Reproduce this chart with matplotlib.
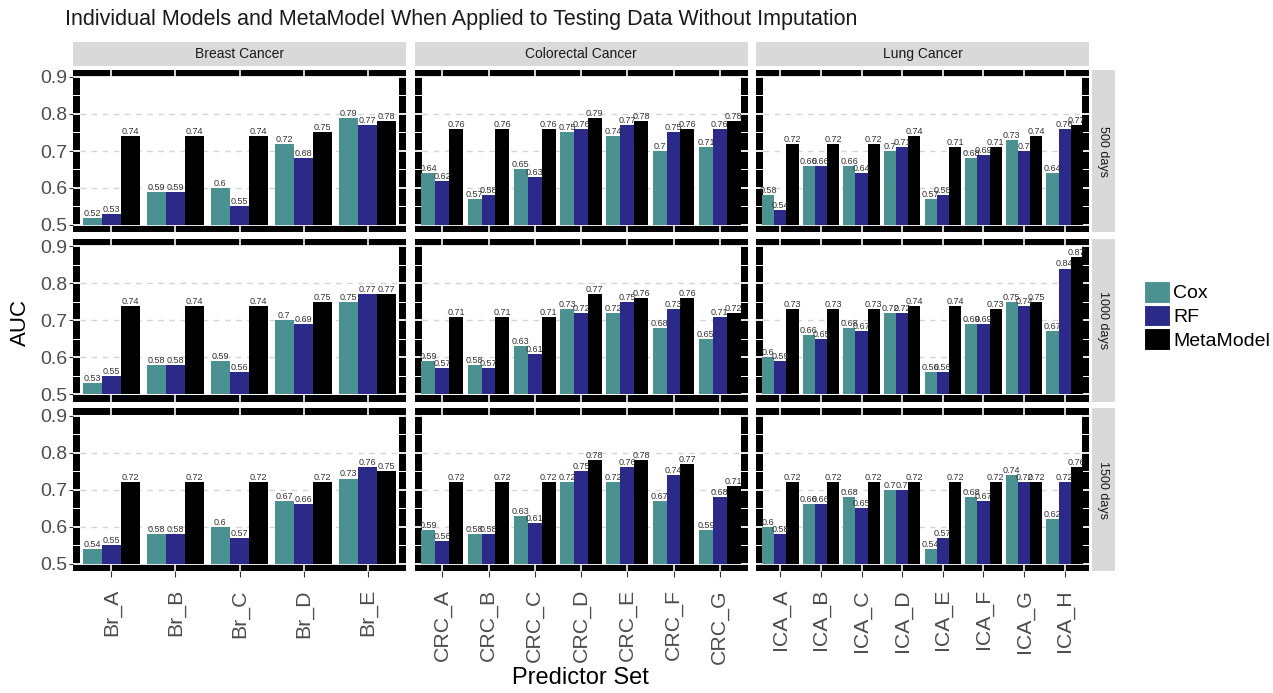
import matplotlib
matplotlib.use("Agg")
import matplotlib.pyplot as plt
from matplotlib.patches import Rectangle, Patch
import numpy as np

plt.rcParams['font.family'] = ['Liberation Sans', 'DejaVu Sans']

# ---------------- data ----------------
title = "Individual Models and MetaModel When Applied to Testing Data Without Imputation"
cancers = ["Breast Cancer", "Colorectal Cancer", "Lung Cancer"]
times = ["500 days", "1000 days", "1500 days"]
models = ["Cox", "RF", "MetaModel"]

br_sets = ["Br_A", "Br_B", "Br_C", "Br_D", "Br_E"]
crc_sets = ["CRC_A", "CRC_B", "CRC_C", "CRC_D", "CRC_E", "CRC_F", "CRC_G"]
lca_sets = ["ICA_A", "ICA_B", "ICA_C", "ICA_D", "ICA_E", "ICA_F", "ICA_G", "ICA_H"]

# 500 days
cox_br_500 = [0.52, 0.59, 0.60, 0.72, 0.79]
rf_br_500 = [0.53, 0.59, 0.55, 0.68, 0.77]
meta_br_500 = [0.74, 0.74, 0.74, 0.75, 0.78]
cox_crc_500 = [0.64, 0.57, 0.65, 0.75, 0.74, 0.70, 0.71]
rf_crc_500 = [0.62, 0.58, 0.63, 0.76, 0.77, 0.75, 0.76]
meta_crc_500 = [0.76, 0.76, 0.76, 0.79, 0.78, 0.76, 0.78]
cox_lca_500 = [0.58, 0.66, 0.66, 0.70, 0.57, 0.68, 0.73, 0.64]
rf_lca_500 = [0.54, 0.66, 0.64, 0.71, 0.58, 0.69, 0.70, 0.76]
meta_lca_500 = [0.72, 0.72, 0.72, 0.74, 0.71, 0.71, 0.74, 0.77]

# 1000 days
cox_br_1000 = [0.53, 0.58, 0.59, 0.70, 0.75]
rf_br_1000 = [0.55, 0.58, 0.56, 0.69, 0.77]
meta_br_1000 = [0.74, 0.74, 0.74, 0.75, 0.77]
cox_crc_1000 = [0.59, 0.58, 0.63, 0.73, 0.72, 0.68, 0.65]
rf_crc_1000 = [0.57, 0.57, 0.61, 0.72, 0.75, 0.73, 0.71]
meta_crc_1000 = [0.71, 0.71, 0.71, 0.77, 0.76, 0.76, 0.72]
cox_lca_1000 = [0.60, 0.66, 0.68, 0.72, 0.56, 0.69, 0.75, 0.67]
rf_lca_1000 = [0.59, 0.65, 0.67, 0.72, 0.56, 0.69, 0.74, 0.84]
meta_lca_1000 = [0.73, 0.73, 0.73, 0.74, 0.74, 0.73, 0.75, 0.87]

# 1500 days
cox_br_1500 = [0.54, 0.58, 0.60, 0.67, 0.73]
rf_br_1500 = [0.55, 0.58, 0.57, 0.66, 0.76]
meta_br_1500 = [0.72, 0.72, 0.72, 0.72, 0.75]
cox_crc_1500 = [0.59, 0.58, 0.63, 0.72, 0.72, 0.67, 0.59]
rf_crc_1500 = [0.56, 0.58, 0.61, 0.75, 0.76, 0.74, 0.68]
meta_crc_1500 = [0.72, 0.72, 0.72, 0.78, 0.78, 0.77, 0.71]
cox_lca_1500 = [0.60, 0.66, 0.68, 0.70, 0.54, 0.68, 0.74, 0.62]
rf_lca_1500 = [0.58, 0.66, 0.65, 0.70, 0.57, 0.67, 0.72, 0.72]
meta_lca_1500 = [0.72, 0.72, 0.72, 0.72, 0.72, 0.72, 0.72, 0.76]

y_ticks = [0.5, 0.6, 0.7, 0.8, 0.9]
y_ticklabels = ["0.5", "0.6", "0.7", "0.8", "0.9"]

set_lists = [br_sets, crc_sets, lca_sets]
panels = {
    (0, 0): (cox_br_500, rf_br_500, meta_br_500),
    (0, 1): (cox_crc_500, rf_crc_500, meta_crc_500),
    (0, 2): (cox_lca_500, rf_lca_500, meta_lca_500),
    (1, 0): (cox_br_1000, rf_br_1000, meta_br_1000),
    (1, 1): (cox_crc_1000, rf_crc_1000, meta_crc_1000),
    (1, 2): (cox_lca_1000, rf_lca_1000, meta_lca_1000),
    (2, 0): (cox_br_1500, rf_br_1500, meta_br_1500),
    (2, 1): (cox_crc_1500, rf_crc_1500, meta_crc_1500),
    (2, 2): (cox_lca_1500, rf_lca_1500, meta_lca_1500),
}

# ---------------- style / layout ----------------
colors = ["#4b9191", "#2c2a88", "#000000"]
W, H = 1273, 693
fig = plt.figure(figsize=(W / 100, H / 100), dpi=100)
PT = 72 / 100  # points per pixel


def rect(x0, y0, w, h):
    return [x0 / W, 1 - (y0 + h) / H, w / W, h / H]


col_x = [73, 414.5, 756]
col_w = 333
row_y = [69.6, 238.9, 408.2]
row_h = 162.8
YLO, YHI = 0.48, 0.92
BORDER = 7.0
BAR_W = 0.3

for r in range(3):
    for c in range(3):
        sets = set_lists[c]
        n = len(sets)
        ax = fig.add_axes(rect(col_x[c], row_y[r], col_w, row_h))
        ax.set_xlim(0.4, n + 0.6)
        ax.set_ylim(YLO, YHI)
        ax.set_facecolor("black")
        for s in ax.spines.values():
            s.set_visible(False)
        ppx = col_w / (n + 0.2)
        ppy = row_h / (YHI - YLO)
        dx = BORDER / ppx
        dy = BORDER / ppy
        ax.add_patch(Rectangle((0.4 + dx, YLO + dy), n + 0.2 - 2 * dx,
                               (YHI - YLO) - 2 * dy, facecolor="white",
                               edgecolor="none", zorder=0.5))
        # white grid lines crossing the thick border
        for xi in range(1, n + 1):
            ax.axvline(xi, color="white", lw=1.6 * PT, zorder=1)
        for k in range(9):
            yv = 0.5 + 0.05 * k
            ax.axhline(yv, color="white", lw=(1.8 if k % 2 == 0 else 1.0) * PT, zorder=1)
        ax.hlines([0.6, 0.7, 0.8], 0.4 + dx, n + 0.6 - dx, colors="#d4d4d4",
                  linestyles=(0, (4, 4)), lw=1.0, zorder=1.5)
        x = np.arange(1, n + 1)
        for j, vals in enumerate(panels[(r, c)]):
            v = np.array(vals)
            xs = x + (j - 1) * BAR_W
            ax.bar(xs, v - 0.5, bottom=0.5, width=BAR_W, color=colors[j],
                   linewidth=0, zorder=2)
            for xv, yv in zip(xs, v):
                ax.text(xv, yv, f"{yv:g}", ha="center", va="bottom",
                        fontsize=6.5, color="#333333", zorder=3)
        if c == 0:
            ax.set_yticks(y_ticks)
            ax.set_yticklabels(y_ticklabels)
            ax.tick_params(axis="y", length=3, width=0.8, color="#333333",
                           labelsize=14, labelcolor="#4d4d4d", pad=1)
        else:
            ax.set_yticks([])
        if r == 2:
            ax.set_xticks(x)
            ax.set_xticklabels(sets, rotation=90)
            ax.tick_params(axis="x", length=4, width=0.8, color="#333333",
                           labelsize=15.3, labelcolor="#4d4d4d", pad=9)
        else:
            ax.set_xticks([])

# top strips
for c in range(3):
    sax = fig.add_axes(rect(col_x[c], 42, col_w, 24))
    sax.set_facecolor("#d9d9d9")
    sax.set_xticks([]); sax.set_yticks([])
    for s in sax.spines.values():
        s.set_visible(False)
    sax.text(0.5, 0.5, cancers[c], ha="center", va="center", fontsize=10,
             color="#1a1a1a", transform=sax.transAxes)

# right strips
for r in range(3):
    sax = fig.add_axes(rect(1091.5, row_y[r], 23, row_h))
    sax.set_facecolor("#d9d9d9")
    sax.set_xticks([]); sax.set_yticks([])
    for s in sax.spines.values():
        s.set_visible(False)
    sax.text(0.5, 0.5, times[r], ha="center", va="center", fontsize=9,
             rotation=-90, color="#1a1a1a", transform=sax.transAxes)

# legend
handles = [Patch(facecolor=colors[i], edgecolor="white", linewidth=0.8) for i in range(3)]
fig.legend(handles, models, loc="upper left", bbox_to_anchor=(1144 / W, 1 - 281 / H),
           frameon=False, fontsize=14, handlelength=1.34, handleheight=1.34,
           labelspacing=0.1, handletextpad=0.15, borderpad=0, borderaxespad=0)

fig.text(65 / W, 1 - 19 / H, title, fontsize=15.5, ha="left", va="center", color="#1a1a1a")
fig.text(20 / W, 1 - 322 / H, "AUC", rotation=90, fontsize=16, ha="center", va="center")
fig.text(580 / W, 1 - 678 / H, "Predictor Set", fontsize=17, ha="center", va="center")

fig.savefig("out.png", dpi=100)
